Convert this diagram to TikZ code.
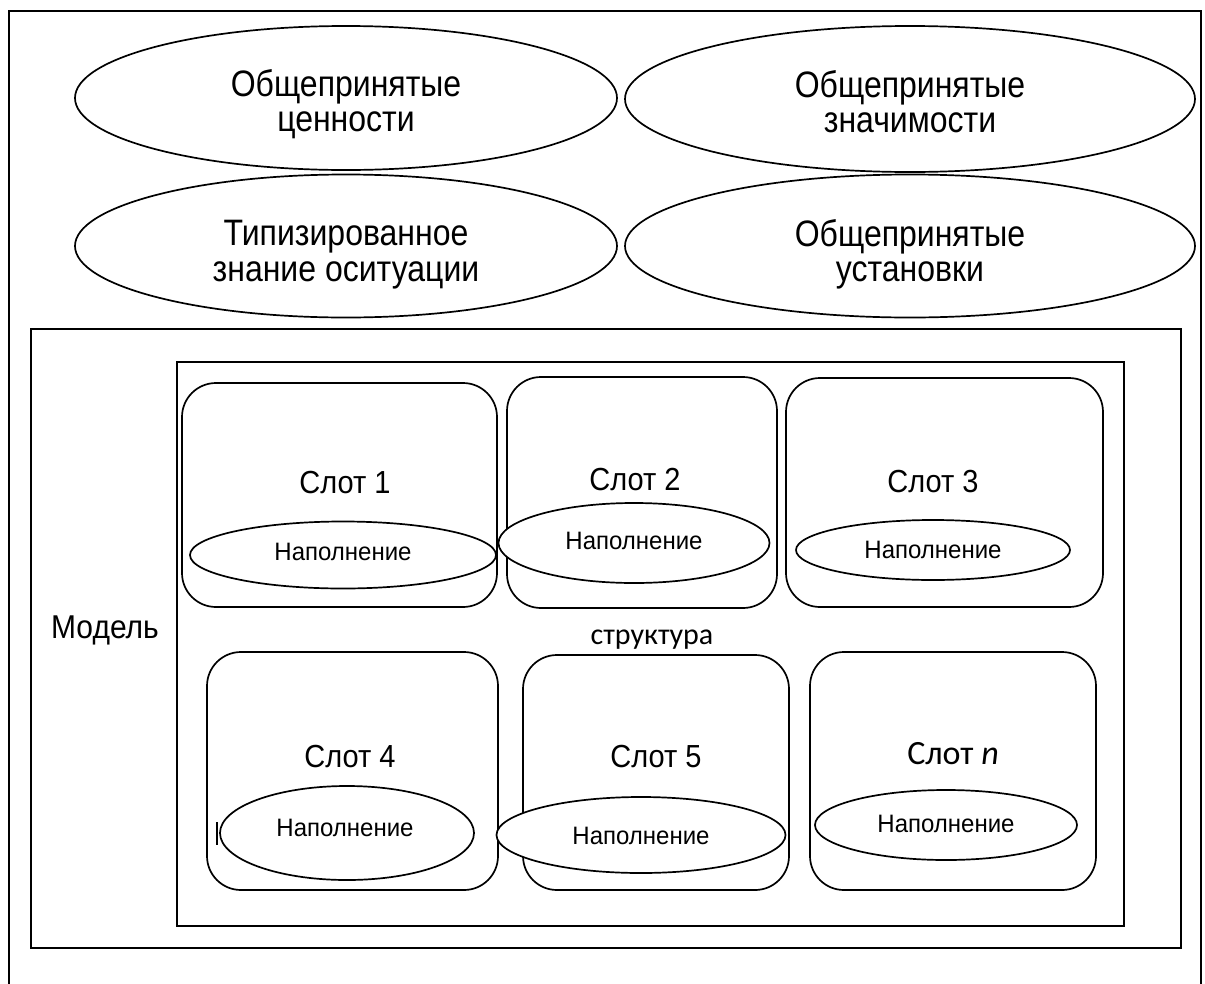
\documentclass[tikz,border=0pt]{standalone}
\usepackage{fontspec}
\usepackage{graphicx}
\setmainfont{Liberation Sans}
\newfontfamily\calib{Carlito}
\usetikzlibrary{shapes.geometric}
\newcommand\tallt[2][1.15]{\scalebox{1}[#1]{\begin{tabular}{@{}c@{}}#2\end{tabular}}}
\tikzset{
  ln/.style={line width=1.7pt},
  bigoval/.style={ln, ellipse, draw, fill=white, inner sep=0pt},
  bigtext/.style={inner sep=0pt, font=\fontsize{32}{31}\selectfont},
  slotbox/.style={ln, draw, rounded corners=34pt},
  filloval/.style={ln, ellipse, draw, fill=white, inner sep=0pt},
  slottext/.style={inner sep=0pt, font=\fontsize{29}{32}\selectfont},
  filltext/.style={inner sep=0pt, font=\fontsize{24}{26}\selectfont},
}
\begin{document}
\begin{tikzpicture}[x=1pt,y=-1pt]
\useasboundingbox (0,0) rectangle (1205,983);
\clip (0,0) rectangle (1205,983);
% outer frame (bottom edge off the page)
\coordinate (oBL) at (9,995);
\coordinate (oTL) at (9,11);
\coordinate (oTR) at (1201,11);
\coordinate (oBR) at (1201,995);
\draw[ln] (oBL) -- (oTL) -- (oTR) -- (oBR);
% top ellipses
\node[bigoval, minimum width=542pt, minimum height=144pt] (e1) at (346,98) {};
\node[bigoval, minimum width=570pt, minimum height=146pt] (e2) at (910,99) {};
\node[bigoval, minimum width=542pt, minimum height=143pt] (e3) at (346,246) {};
\node[bigoval, minimum width=570pt, minimum height=143pt] (e4) at (910,246) {};
\node[bigtext] (t1) at ([yshift=-8pt]e1.center) {\tallt{Общепринятые\\ценности}};
\node[bigtext] (t2) at ([yshift=-8pt]e2.center) {\tallt{Общепринятые\\значимости}};
\node[bigtext] (t3) at ([yshift=-10pt]e3.center) {\tallt{Типизированное\\знание оситуации}};
\node[bigtext] (t4) at ([yshift=-10pt]e4.center) {\tallt{Общепринятые\\установки}};
% model box
\draw[ln] (31,329) rectangle (1181,948);
\node[inner sep=0pt, font=\fontsize{30}{32}\selectfont] (model) at (105,631) {\tallt[1.1]{Модель}};
% structure box
\draw[ln] (177,362) rectangle (1124,926);
\node[font=\calib\fontsize{30}{32}\selectfont] (struct) at (652,640) {структура};
% slots row 1
\draw[slotbox] (182,383) rectangle (497,607);
\draw[slotbox] (507,377) rectangle (777,608);
\draw[slotbox] (786,378) rectangle (1103,607);
% slots row 2
\draw[slotbox] (207,652) rectangle (498,890);
\draw[slotbox] (523,655) rectangle (789,890);
\draw[slotbox] (810,652) rectangle (1096,890);
% stray mark in slot 4
\draw[ln] (217,822) -- (217,845);
% slot titles
\node[slottext] (s1) at (345,486) {\tallt[1.1]{Слот 1}};
\node[slottext] (s2) at (635,483) {\tallt[1.1]{Слот 2}};
\node[slottext] (s3) at (933,485) {\tallt[1.1]{Слот 3}};
\node[slottext] (s4) at (350,760) {\tallt[1.1]{Слот 4}};
\node[slottext] (s5) at (656,760) {\tallt[1.1]{Слот 5}};
\node[font=\calib\fontsize{34}{36}\selectfont] (sn) at (953,754) {Слот \textit{n}};
% fillings
\node[filloval, minimum width=306pt, minimum height=67pt] (f1) at (343,555) {};
\node[filloval, minimum width=271pt, minimum height=80pt] (f2) at (634,543) {};
\node[filloval, minimum width=274pt, minimum height=60pt] (f3) at (933,550) {};
\node[filloval, minimum width=254pt, minimum height=94pt] (f4) at (347,833) {};
\node[filloval, minimum width=289pt, minimum height=76pt] (f5) at (641,835) {};
\node[filloval, minimum width=262pt, minimum height=70pt] (fn) at (946,825) {};
\node[filltext] (n1) at (343,555) {\tallt[1.05]{Наполнение}};
\node[filltext] (n2) at (634,544) {\tallt[1.05]{Наполнение}};
\node[filltext] (n3) at (933,553) {\tallt[1.05]{Наполнение}};
\node[filltext] (n4) at (345,831) {\tallt[1.05]{Наполнение}};
\node[filltext] (n5) at (641,839) {\tallt[1.05]{Наполнение}};
\node[filltext] (nn) at (946,827) {\tallt[1.05]{Наполнение}};
\end{tikzpicture}
\end{document}
